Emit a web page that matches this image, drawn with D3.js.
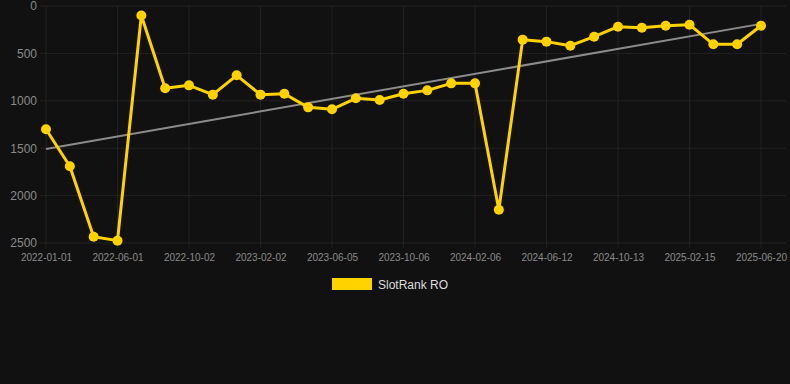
<!DOCTYPE html>
<html>
<head>
<meta charset="utf-8">
<script src="https://cdn.jsdelivr.net/npm/d3@7"></script>
<style>
  body { margin: 0; background: #111111; }
  svg { display: block; font-family: "Liberation Sans", Arial, sans-serif; }
</style>
</head>
<body>
<svg id="chart" width="790" height="384"></svg>
<script>
// dates on the x axis (only every third one gets a label)
var dates = [
    "2022-01-01", "2022-02-20", "2022-04-11", "2022-06-01", "2022-07-12", "2022-08-22",
    "2022-10-02", "2022-11-12", "2022-12-23", "2023-02-02", "2023-03-15", "2023-04-25",
    "2023-06-05", "2023-07-16", "2023-08-26", "2023-10-06", "2023-11-16", "2023-12-27",
    "2024-02-06", "2024-03-18", "2024-05-01", "2024-06-12", "2024-07-23", "2024-09-02",
    "2024-10-13", "2024-11-23", "2025-01-04", "2025-02-15", "2025-03-28", "2025-05-09",
    "2025-06-20"
];

// rank values (lower is better, axis is reversed)
var rankRO = [
    1300, 1690, 2435, 2475, 100, 868, 837, 935, 731, 935,
    925, 1069, 1090, 974, 992, 925, 890, 816, 816, 2150,
    355, 376, 419, 324, 218, 229, 208, 197, 404, 404,
    208
];

var yTicks = [0, 500, 1000, 1500, 2000, 2500];
var seriesName = "SlotRank RO";

var width = 790, height = 384;
var margin = {left: 46, right: 29, top: 6, bottom: 141};

var svg = d3.select("#chart");

var x = d3.scalePoint()
    .domain(dates)
    .range([margin.left, width - margin.right]);

var y = d3.scaleLinear()
    .domain([0, 2500])
    .range([margin.top, height - margin.bottom]);

// grid lines
svg.append("g")
    .selectAll("line")
    .data(yTicks)
    .enter()
    .append("line")
    .attr("x1", 40)
    .attr("x2", width - 4)
    .attr("y1", function(d) { return y(d); })
    .attr("y2", function(d) { return y(d); })
    .style("stroke", "#222")
    .style("stroke-width", 1);

var labelled = dates.filter(function(d, i) { return i % 3 === 0; });

svg.append("g")
    .selectAll("line")
    .data(labelled)
    .enter()
    .append("line")
    .attr("x1", function(d) { return x(d); })
    .attr("x2", function(d) { return x(d); })
    .attr("y1", y(0))
    .attr("y2", y(2500) + 5)
    .style("stroke", "#222")
    .style("stroke-width", 1);

// y axis labels
var yAxis = svg.append("g")
    .attr("transform", "translate(37,0)")
    .call(d3.axisLeft(y).tickValues(yTicks).tickFormat(d3.format("d")).tickSize(0).tickPadding(0));
yAxis.select(".domain").remove();
yAxis.selectAll("text")
    .style("font-size", "12px")
    .style("fill", "#8a8a8a")
    .style("font-family", "Liberation Sans, Arial, sans-serif");

// x axis labels
var xAxis = svg.append("g")
    .attr("transform", "translate(0," + (y(2500) + 11) + ")")
    .call(d3.axisBottom(x).tickValues(labelled).tickSize(0).tickPadding(0));
xAxis.select(".domain").remove();
xAxis.selectAll("text")
    .style("font-size", "10px")
    .style("fill", "#8a8a8a")
    .style("font-family", "Liberation Sans, Arial, sans-serif");

// least squares trend line over the series
var n = rankRO.length;
var sx = 0, sy = 0, sxy = 0, sxx = 0;
rankRO.forEach(function(v, i) { sx += i; sy += v; sxy += i * v; sxx += i * i; });
var slope = (n * sxy - sx * sy) / (n * sxx - sx * sx);
var icpt = (sy - slope * sx) / n;

svg.append("line")
    .attr("x1", x(dates[0]))
    .attr("x2", x(dates[n - 1]))
    .attr("y1", y(icpt))
    .attr("y2", y(icpt + slope * (n - 1)))
    .style("stroke", "#8c8c8c")
    .style("stroke-width", 2);

// the series line
var line = d3.line()
    .x(function(d, i) { return x(dates[i]); })
    .y(function(d) { return y(d); });

svg.append("path")
    .datum(rankRO)
    .attr("d", line)
    .style("fill", "none")
    .style("stroke", "#ffd200")
    .style("stroke-width", 3)
    .style("stroke-linejoin", "round");

svg.append("g")
    .selectAll("circle")
    .data(rankRO)
    .enter()
    .append("circle")
    .attr("cx", function(d, i) { return x(dates[i]); })
    .attr("cy", function(d) { return y(d); })
    .attr("r", 5)
    .style("fill", "#ffd200");

// legend
var legend = svg.append("g");
legend.append("rect")
    .attr("x", 332)
    .attr("y", 278)
    .attr("width", 40)
    .attr("height", 12)
    .style("fill", "#ffd200");
legend.append("text")
    .attr("x", 378)
    .attr("y", 289)
    .text(seriesName)
    .style("font-size", "12px")
    .style("fill", "#dddddd");
</script>
</body>
</html>
